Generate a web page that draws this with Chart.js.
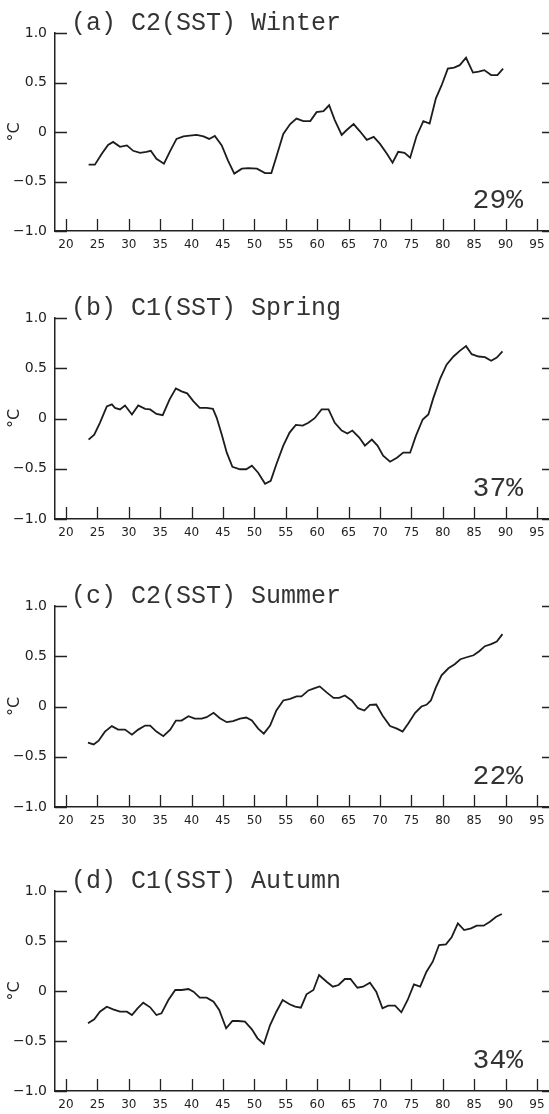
<!DOCTYPE html>
<html>
<head>
<meta charset="utf-8">
<script src="https://cdn.jsdelivr.net/npm/chart.js@4.4.0/dist/chart.umd.min.js"></script>
<style>
  html, body { margin: 0; padding: 0; background: #fff; overflow: hidden; }
  .panel { position: absolute; left: 0; width: 549px; }
</style>
</head>
<body>
<div class="panel" style="top:0px"><canvas id="c0"></canvas></div>
<div class="panel" style="top:285px"><canvas id="c1"></canvas></div>
<div class="panel" style="top:573px"><canvas id="c2"></canvas></div>
<div class="panel" style="top:858px"><canvas id="c3"></canvas></div>
<script>
// axis ticks
const xTicks = [20, 25, 30, 35, 40, 45, 50, 55, 60, 65, 70, 75, 80, 85, 90, 95];
const yTicks = [-1, -0.5, 0, 0.5, 1];
const yTickLabels = ['\u22121.0', '\u22120.5', '0', '0.5', '1.0'];

const titles = ['(a) C2(SST) Winter', '(b) C1(SST) Spring', '(c) C2(SST) Summer', '(d) C1(SST) Autumn'];
const percents = ['29%', '37%', '22%', '34%'];

// (a) winter
const years_a = [23.6,24.6,25.7,26.7,27.5,28.6,29.7,30.7,31.8,32.8,33.5,34.4,35.6,36.6,37.6,38.7,39.7,40.8,41.9,42.8,43.7,44.8,45.8,46.8,48.0,49.0,50.4,51.7,52.7,53.5,54.6,55.7,56.7,57.8,58.9,59.9,61.0,61.9,62.8,63.9,64.7,65.8,66.8,67.9,69.0,70.0,71.1,72.0,72.9,73.9,74.8,75.8,76.9,77.9,78.9,79.8,80.8,81.8,82.7,83.7,84.8,85.7,86.6,87.7,88.7,89.6];
const sst_a = [-0.33,-0.33,-0.22,-0.13,-0.10,-0.15,-0.135,-0.19,-0.21,-0.20,-0.19,-0.27,-0.32,-0.19,-0.07,-0.045,-0.037,-0.03,-0.045,-0.07,-0.04,-0.135,-0.29,-0.42,-0.37,-0.365,-0.37,-0.415,-0.415,-0.25,-0.02,0.08,0.135,0.11,0.11,0.20,0.21,0.27,0.12,-0.03,0.02,0.08,0.007,-0.08,-0.05,-0.12,-0.22,-0.31,-0.20,-0.21,-0.26,-0.045,0.11,0.085,0.34,0.47,0.64,0.65,0.675,0.75,0.60,0.61,0.625,0.575,0.575,0.64];

// (b) spring
const years_b = [23.6,24.5,25.4,26.5,27.3,27.8,28.6,29.4,30.5,31.5,32.6,33.4,34.4,35.4,36.5,37.5,38.4,39.3,40.3,41.3,42.4,43.4,44.0,44.8,45.6,46.5,47.7,48.7,49.6,50.6,51.7,52.6,53.5,54.6,55.6,56.6,57.7,58.6,59.6,60.7,61.8,62.8,63.9,64.8,65.6,66.7,67.6,68.7,69.6,70.5,71.6,72.7,73.7,74.8,75.7,76.8,77.7,78.5,79.6,80.6,81.7,82.7,83.7,84.6,85.7,86.7,87.7,88.6,89.5];
const sst_b = [-0.21,-0.16,-0.043,0.12,0.14,0.105,0.09,0.13,0.04,0.13,0.096,0.09,0.046,0.033,0.19,0.30,0.27,0.25,0.17,0.105,0.105,0.096,0.007,-0.16,-0.34,-0.48,-0.505,-0.505,-0.47,-0.54,-0.65,-0.62,-0.455,-0.27,-0.14,-0.063,-0.07,-0.043,0.003,0.09,0.09,-0.043,-0.12,-0.15,-0.12,-0.19,-0.27,-0.21,-0.27,-0.37,-0.43,-0.39,-0.34,-0.34,-0.175,-0.01,0.04,0.205,0.40,0.535,0.617,0.673,0.72,0.64,0.617,0.61,0.574,0.607,0.667];

// (c) summer
const years_c = [23.5,24.4,25.2,26.2,27.3,28.3,29.4,30.5,31.5,32.6,33.4,34.4,35.5,36.6,37.5,38.4,39.5,40.5,41.6,42.4,43.5,44.5,45.6,46.6,47.7,48.7,49.6,50.6,51.5,52.5,53.5,54.6,55.7,56.7,57.5,58.6,59.5,60.4,61.5,62.6,63.5,64.4,65.5,66.5,67.5,68.4,69.4,70.4,71.6,72.7,73.6,74.5,75.6,76.6,77.4,78.1,78.9,79.8,80.9,81.9,82.8,83.8,84.9,85.8,86.7,87.7,88.6,89.5];
const sst_c = [-0.36,-0.377,-0.34,-0.25,-0.195,-0.23,-0.23,-0.28,-0.23,-0.19,-0.19,-0.25,-0.295,-0.23,-0.14,-0.14,-0.096,-0.12,-0.12,-0.106,-0.063,-0.116,-0.156,-0.146,-0.12,-0.11,-0.14,-0.22,-0.27,-0.19,-0.04,0.06,0.076,0.10,0.10,0.16,0.18,0.20,0.14,0.086,0.086,0.11,0.06,-0.017,-0.04,0.017,0.02,-0.09,-0.195,-0.22,-0.25,-0.17,-0.063,0.0,0.017,0.06,0.19,0.31,0.38,0.42,0.47,0.49,0.51,0.55,0.60,0.62,0.646,0.72];

// (d) autumn
const years_d = [23.5,24.5,25.4,26.5,27.5,28.6,29.7,30.5,31.4,32.3,33.4,34.4,35.2,36.3,37.4,38.4,39.5,40.3,41.3,42.4,43.5,44.4,45.5,46.5,47.4,48.5,49.6,50.5,51.5,52.5,53.5,54.5,55.6,56.5,57.4,58.3,59.4,60.3,61.5,62.5,63.4,64.4,65.3,66.4,67.3,68.4,69.4,70.4,71.3,72.4,73.4,74.4,75.4,76.4,77.4,78.4,79.4,80.5,81.4,82.4,83.4,84.5,85.4,86.5,87.5,88.5,89.4];
const sst_d = [-0.323,-0.283,-0.207,-0.157,-0.183,-0.207,-0.207,-0.24,-0.173,-0.117,-0.163,-0.24,-0.223,-0.09,0.01,0.01,0.02,-0.007,-0.067,-0.067,-0.107,-0.19,-0.373,-0.30,-0.30,-0.307,-0.383,-0.473,-0.53,-0.34,-0.207,-0.09,-0.133,-0.157,-0.167,-0.033,0.01,0.16,0.093,0.043,0.06,0.12,0.12,0.033,0.043,0.083,-0.007,-0.173,-0.147,-0.147,-0.213,-0.09,0.067,0.043,0.193,0.293,0.46,0.467,0.537,0.677,0.61,0.627,0.653,0.653,0.693,0.743,0.77];

const allYears = [years_a, years_b, years_c, years_d];
const allSst = [sst_a, sst_b, sst_c, sst_d];

// layout of each panel
const panelTops = [0, 285, 573, 858];
const plotHeights = [198, 201, 201, 200];
const PAD_TOP = 33;
const X_AXIS_H = 25;

// inward tick marks plus the panel caption and the percentage
const frameDecor = {
  id: 'frameDecor',
  afterDraw(chart, args, opts) {
    const { ctx, chartArea, scales } = chart;
    const x = scales.x, y = scales.y;
    ctx.save();
    ctx.strokeStyle = '#222';
    ctx.lineWidth = 1.3;
    ctx.beginPath();
    xTicks.forEach(v => {
      const px = Math.round(x.getPixelForValue(v)) + 0.5;
      ctx.moveTo(px, chartArea.bottom);
      ctx.lineTo(px, chartArea.bottom - 12);
    });
    yTicks.forEach(v => {
      const py = Math.round(y.getPixelForValue(v)) + 0.5;
      ctx.moveTo(chartArea.left, py);
      ctx.lineTo(chartArea.left + 12, py);
      ctx.moveTo(chartArea.right, py);
      ctx.lineTo(chartArea.right - 7, py);
    });
    ctx.stroke();

    ctx.fillStyle = '#333';
    ctx.textBaseline = 'alphabetic';
    ctx.font = '25px "Liberation Mono", "Courier New", monospace';
    ctx.textAlign = 'left';
    ctx.fillText(opts.title, 71, chartArea.top - 3);
    ctx.font = '28px "Liberation Mono", "Courier New", monospace';
    ctx.textAlign = 'right';
    ctx.fillText(opts.pct, 523, chartArea.bottom - 23);
    ctx.restore();
  }
};

function makePanel(i) {
  const canvas = document.getElementById('c' + i);
  const h = Math.min(286, 1114 - panelTops[i]);
  canvas.width = 549;
  canvas.height = h;
  canvas.style.width = '549px';
  canvas.style.height = h + 'px';
  const points = allYears[i].map((yr, k) => ({ x: yr, y: allSst[i][k] }));

  new Chart(canvas, {
    type: 'line',
    data: {
      datasets: [{
        data: points,
        borderColor: '#1c1c1c',
        borderWidth: 1.8,
        pointRadius: 0,
        tension: 0,
        fill: false
      }]
    },
    options: {
      responsive: false,
      animation: false,
      layout: {
        padding: { top: PAD_TOP, right: 0, left: 0, bottom: h - PAD_TOP - plotHeights[i] - X_AXIS_H }
      },
      plugins: {
        legend: { display: false },
        tooltip: { enabled: false },
        frameDecor: { title: titles[i], pct: percents[i] }
      },
      scales: {
        x: {
          type: 'linear',
          min: 18.25,
          max: 96.91,
          afterBuildTicks: s => { s.ticks = xTicks.map(v => ({ value: v })); },
          afterFit: s => { s.height = X_AXIS_H; s.paddingLeft = 0; s.paddingRight = 0; },
          grid: { display: false, drawTicks: false },
          border: { display: true, color: '#222', width: 1.5 },
          ticks: {
            autoSkip: false,
            maxRotation: 0,
            padding: 7,
            color: '#222',
            font: { family: 'DejaVu Sans', size: 12 },
            callback: v => String(v)
          }
        },
        y: {
          min: -1,
          max: 1,
          afterBuildTicks: s => { s.ticks = yTicks.map(v => ({ value: v })); },
          afterFit: s => { s.width = 55; },
          grid: { display: false, drawTicks: false },
          border: { display: true, color: '#222', width: 1.5 },
          ticks: {
            padding: 8,
            color: '#222',
            font: { family: 'DejaVu Sans', size: 14 },
            callback: v => yTickLabels[yTicks.indexOf(v)]
          },
          title: {
            display: true,
            text: '°C',
            color: '#222',
            font: { family: 'DejaVu Sans', size: 16 },
            padding: { top: 5, bottom: 0 }
          }
        }
      }
    },
    plugins: [frameDecor]
  });
}

[0, 1, 2, 3].forEach(makePanel);
</script>
</body>
</html>
